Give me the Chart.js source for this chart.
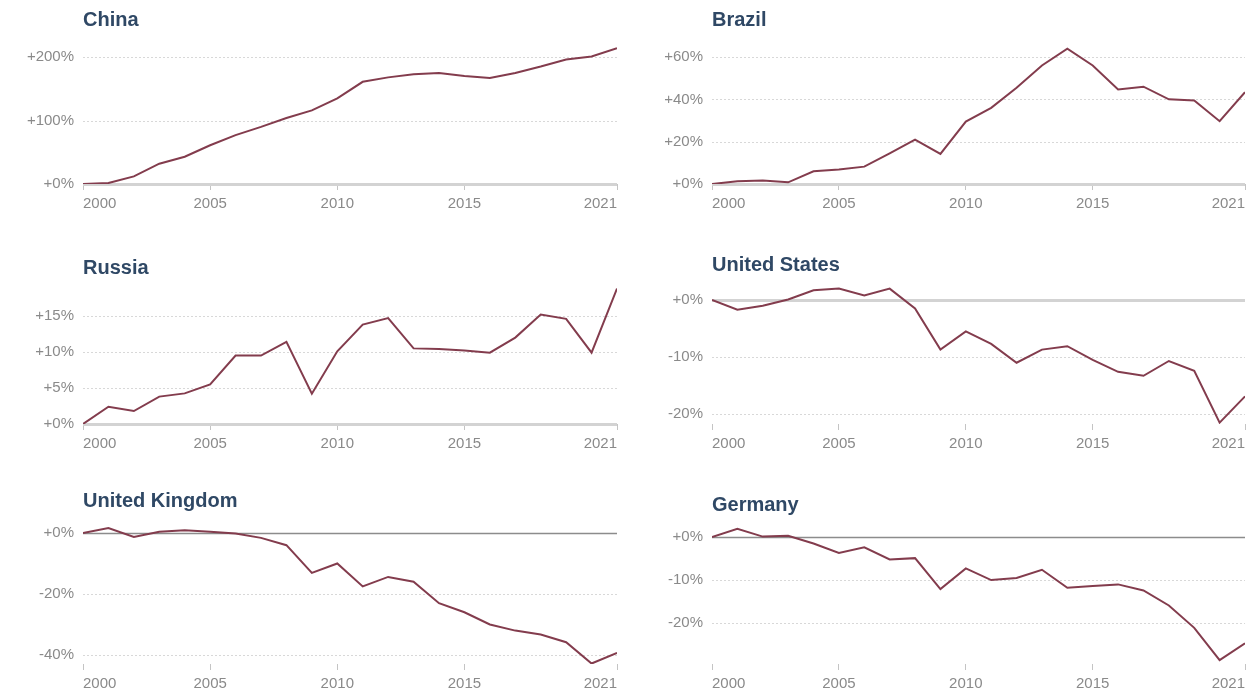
<!DOCTYPE html>
<html lang="en">
<head>
    <meta charset="UTF-8">
    <title>Change since 2000</title>
    <script src="https://cdn.jsdelivr.net/npm/chart.js"></script>
    <style>
        body { margin: 0; background: #fff; font-family: "Liberation Sans", Arial, sans-serif; }
        #wrap { position: relative; width: 1250px; height: 696px; overflow: hidden; }
        .panel { position: absolute; }
        .title { position: absolute; font-weight: bold; font-size: 20px; line-height: 22px; color: #2f4865; white-space: nowrap; }
    </style>
</head>
<body>
    <div id="wrap"></div>

    <script>
        // years on the x axis
        const years = [2000, 2001, 2002, 2003, 2004, 2005, 2006, 2007, 2008, 2009, 2010,
                       2011, 2012, 2013, 2014, 2015, 2016, 2017, 2018, 2019, 2020, 2021];
        const xTicks = [2000, 2005, 2010, 2015, 2021];

        // % change since 2000
        const chinaValues   = [0, 1.5, 12, 32, 43, 61, 77, 90, 104, 116, 135, 161, 168, 173, 175, 170, 167, 175, 185, 196, 201, 214];
        const brazilValues  = [0, 1.3, 1.7, 0.8, 6, 6.8, 8.2, 14.5, 21, 14.2, 29.5, 36, 45.5, 56, 64, 56, 44.7, 46, 40, 39.5, 29.7, 43.4];
        const russiaValues  = [0, 2.4, 1.8, 3.8, 4.25, 5.5, 9.5, 9.5, 11.4, 4.2, 10.1, 13.8, 14.7, 10.5, 10.4, 10.2, 9.9, 12, 15.2, 14.6, 9.9, 18.8];
        const usValues      = [0, -1.7, -1.0, 0.1, 1.7, 2.0, 0.8, 2.0, -1.5, -8.7, -5.5, -7.7, -11, -8.7, -8.1, -10.5, -12.6, -13.3, -10.7, -12.4, -21.5, -16.9];
        const ukValues      = [0, 1.6, -1.3, 0.4, 0.9, 0.4, -0.2, -1.6, -4.0, -13.1, -10, -17.5, -14.4, -16, -23, -26, -30, -32, -33.3, -35.8, -42.8, -39.3];
        const germanyValues = [0, 1.9, 0.1, 0.3, -1.5, -3.7, -2.4, -5.2, -4.9, -12.1, -7.3, -10, -9.5, -7.6, -11.8, -11.4, -11, -12.4, -15.9, -21.1, -28.6, -24.7];

        // y tick labels per panel
        const chinaTicks   = [0, 100, 200];
        const brazilTicks  = [0, 20, 40, 60];
        const russiaTicks  = [0, 5, 10, 15];
        const usTicks      = [0, -10, -20];
        const ukTicks      = [0, -20, -40];
        const germanyTicks = [0, -10, -20];

        const panels = [
            { name: 'China',          values: chinaValues,   ticks: chinaTicks,   min: 0,      max: 219,  col: 0, row: 0, titleY: 19,  zero: 'axis' },
            { name: 'Brazil',         values: brazilValues,  ticks: brazilTicks,  min: 0,      max: 65.7, col: 1, row: 0, titleY: 19,  zero: 'axis' },
            { name: 'Russia',         values: russiaValues,  ticks: russiaTicks,  min: 0,      max: 19.3, col: 0, row: 1, titleY: 267, zero: 'axis' },
            { name: 'United States',  values: usValues,      ticks: usTicks,      min: -21.75, max: 2.63, col: 1, row: 1, titleY: 264, zero: 'light' },
            { name: 'United Kingdom', values: ukValues,      ticks: ukTicks,      min: -42.95, max: 2.62, col: 0, row: 2, titleY: 500, zero: 'dark' },
            { name: 'Germany',        values: germanyValues, ticks: germanyTicks, min: -29.5,  max: 2.8,  col: 1, row: 2, titleY: 504, zero: 'dark' }
        ];

        const lineColor = '#833c4d';
        const labelColor = '#8a8a8a';
        const font = { family: '"Liberation Sans", Arial, sans-serif', size: 15 };

        // horizontal gridlines: dotted, with a solid zero line
        const gridPlugin = {
            id: 'panelGrid',
            beforeDatasetsDraw(chart, args, opts) {
                const { ctx, chartArea } = chart;
                const y = chart.scales.y;
                ctx.save();
                y.ticks.forEach(t => {
                    const py = Math.round(y.getPixelForValue(t.value)) + 0.5;
                    ctx.beginPath();
                    if (t.value === 0) {
                        ctx.setLineDash([]);
                        if (opts.zero === 'dark') { ctx.strokeStyle = '#8c8c8c'; ctx.lineWidth = 1.5; }
                        else { ctx.strokeStyle = '#d3d3d3'; ctx.lineWidth = 3; }
                    } else {
                        ctx.setLineDash([2, 2]);
                        ctx.strokeStyle = '#d8d8d8';
                        ctx.lineWidth = 1;
                    }
                    ctx.moveTo(chartArea.left, py);
                    ctx.lineTo(chartArea.right, py);
                    ctx.stroke();
                });
                ctx.restore();
            }
        };

        const wrap = document.getElementById('wrap');

        panels.forEach(p => {
            const left = p.col === 0 ? 0 : 625;
            const top = p.row * 240;
            const height = p.row === 2 ? 216 : 240;
            const yWidth = p.col === 0 ? 83 : 87;

            const div = document.createElement('div');
            div.className = 'panel';
            div.style.left = left + 'px';
            div.style.top = top + 'px';
            const canvas = document.createElement('canvas');
            canvas.width = 625;
            canvas.height = height;
            div.appendChild(canvas);
            wrap.appendChild(div);

            const title = document.createElement('div');
            title.className = 'title';
            title.textContent = p.name;
            title.style.left = (left + yWidth) + 'px';
            title.style.top = (p.titleY - 11) + 'px';
            wrap.appendChild(title);

            new Chart(canvas.getContext('2d'), {
                type: 'line',
                data: {
                    labels: years,
                    datasets: [{
                        data: p.values.map((v, i) => ({ x: years[i], y: v })),
                        borderColor: lineColor,
                        borderWidth: 2,
                        pointRadius: 0,
                        tension: 0,
                        fill: false
                    }]
                },
                options: {
                    responsive: false,
                    animation: false,
                    layout: { padding: { top: 45, bottom: p.row === 2 ? 2 : 26, left: 0, right: p.col === 0 ? 8 : 5 } },
                    plugins: {
                        legend: { display: false },
                        tooltip: { enabled: false },
                        panelGrid: { zero: p.zero }
                    },
                    scales: {
                        x: {
                            type: 'linear',
                            min: 2000,
                            max: 2021,
                            afterBuildTicks: s => { s.ticks = xTicks.map(v => ({ value: v })); },
                            afterFit: s => { s.height = 30; },
                            border: { display: false },
                            grid: { drawOnChartArea: false, drawTicks: true, tickLength: 6, color: '#c4c4c4', lineWidth: 1 },
                            ticks: { color: labelColor, font: font, align: 'inner', padding: 5, maxRotation: 0, callback: v => String(v) }
                        },
                        y: {
                            min: p.min,
                            max: p.max,
                            afterBuildTicks: s => { s.ticks = p.ticks.map(v => ({ value: v })); },
                            afterFit: s => { s.width = yWidth; },
                            border: { display: false },
                            grid: { display: false, drawTicks: false },
                            ticks: { color: labelColor, font: font, padding: 9, callback: v => (v >= 0 ? '+' : '') + v + '%' }
                        }
                    }
                },
                plugins: [gridPlugin]
            });
        });
    </script>
</body>
</html>
